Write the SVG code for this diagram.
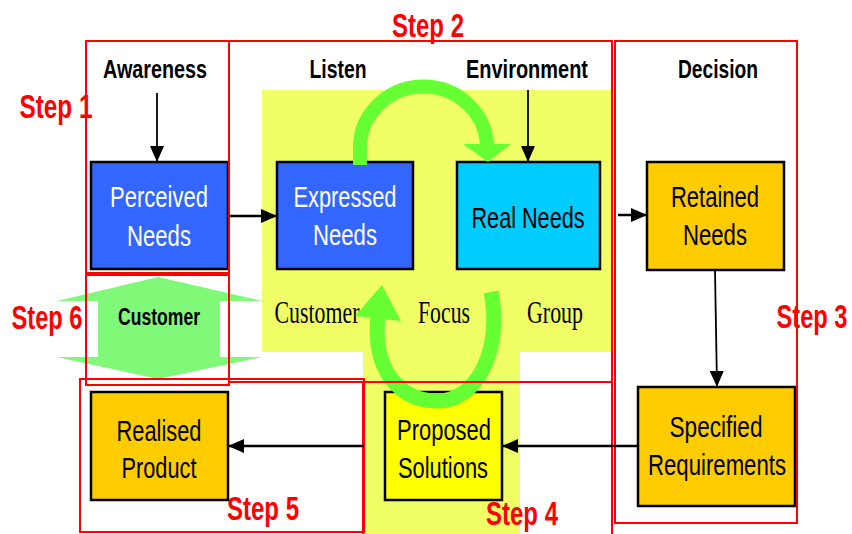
<svg xmlns="http://www.w3.org/2000/svg" width="852" height="534" viewBox="0 0 852 534">
<defs>
<style>
.node{stroke:#000;stroke-width:2.5}
.nt{font-family:"Liberation Sans",Arial,sans-serif;font-size:29px;text-anchor:middle}
.lb{font-family:"Liberation Sans",Arial,sans-serif;font-size:26px;font-weight:bold;text-anchor:middle;fill:#000}
.st{font-family:"Liberation Sans",Arial,sans-serif;font-size:33px;font-weight:bold;text-anchor:middle;fill:#FF0000}
.tm{font-family:"Liberation Serif","Times New Roman",serif;font-size:32px;text-anchor:middle;fill:#000}
.red{fill:none;stroke:#FF0000;stroke-width:2}
.arc{fill:none;stroke:#66FF33;stroke-linecap:butt}
.con{fill:none;stroke:#000}
</style>
<marker id="ah" markerUnits="userSpaceOnUse" markerWidth="17" markerHeight="14" refX="16" refY="7" orient="auto">
<path d="M0,0 L16,7 L0,14 z" fill="#000"/>
</marker>
</defs>
<rect width="852" height="534" fill="#fff"/>
<g id="background">
<path d="M262,90 H613 V352 H520 V534 H363 V352 H262 Z" fill="#F0FF66"/>
<path d="M158,277 L262,301 H220 V357 H262 L158,379 L57,357 H98 V301 H57 Z" fill="#80F878"/>
</g>
<g id="perceived">
<rect class="node" x="91" y="162" width="137" height="107" fill="#3366FF"/>
<text class="nt" x="159" y="207" fill="#fff" textLength="98" lengthAdjust="spacingAndGlyphs">Perceived</text>
<text class="nt" x="159" y="246" fill="#fff" textLength="64" lengthAdjust="spacingAndGlyphs">Needs</text>
</g>
<g id="expressed">
<rect class="node" x="277" y="162" width="136" height="107" fill="#3366FF"/>
<text class="nt" x="345" y="207" fill="#fff" textLength="103" lengthAdjust="spacingAndGlyphs">Expressed</text>
<text class="nt" x="345" y="245" fill="#fff" textLength="64" lengthAdjust="spacingAndGlyphs">Needs</text>
</g>
<g id="real">
<rect class="node" x="457" y="162" width="143" height="107" fill="#00CCFF"/>
<text class="nt" x="528" y="228" fill="#000" textLength="113" lengthAdjust="spacingAndGlyphs">Real Needs</text>
</g>
<g id="retained">
<rect class="node" x="647" y="162" width="137" height="108" fill="#FFCC00"/>
<text class="nt" x="715" y="207" fill="#000" textLength="88" lengthAdjust="spacingAndGlyphs">Retained</text>
<text class="nt" x="715" y="245" fill="#000" textLength="64" lengthAdjust="spacingAndGlyphs">Needs</text>
</g>
<g id="specified">
<rect class="node" x="638" y="387" width="157" height="119" fill="#FFCC00"/>
<text class="nt" x="716" y="437" fill="#000" textLength="93" lengthAdjust="spacingAndGlyphs">Specified</text>
<text class="nt" x="717" y="475" fill="#000" textLength="138" lengthAdjust="spacingAndGlyphs">Requirements</text>
</g>
<g id="proposed">
<rect class="node" x="385" y="392" width="117" height="108" fill="#FFFF00"/>
<text class="nt" x="444" y="440" fill="#000" textLength="94" lengthAdjust="spacingAndGlyphs">Proposed</text>
<text class="nt" x="443" y="478" fill="#000" textLength="90" lengthAdjust="spacingAndGlyphs">Solutions</text>
</g>
<g id="realised">
<rect class="node" x="91" y="392" width="137" height="108" fill="#FFCC00"/>
<text class="nt" x="159" y="441" fill="#000" textLength="85" lengthAdjust="spacingAndGlyphs">Realised</text>
<text class="nt" x="159" y="478" fill="#000" textLength="75" lengthAdjust="spacingAndGlyphs">Product</text>
</g>
<g id="focus-group-labels">
<text class="tm" x="317" y="323" textLength="85" lengthAdjust="spacingAndGlyphs">Customer</text>
<text class="tm" x="444" y="323" textLength="52" lengthAdjust="spacingAndGlyphs">Focus</text>
<text class="tm" x="555" y="323" textLength="56" lengthAdjust="spacingAndGlyphs">Group</text>
</g>
<g id="cycle-arrows">
<path class="arc" stroke-width="14" d="M360,165 L360,150 A63,61 0 0 1 487,146"/>
<path d="M463,144 L511,144 L488,162 Z" fill="#66FF33"/>
<path class="arc" stroke-width="15" d="M378,316 C372,370 400,401 437,401 C480,401 502,345 491,292"/>
<path d="M382,285 L401,321 L355,316 Z" fill="#66FF33"/>
</g>
<g id="steps">
<rect class="red" x="86" y="41" width="143" height="232"/>
<rect class="red" x="229" y="41" width="383" height="341"/>
<rect class="red" x="615" y="41" width="182" height="482"/>
<rect class="red" x="86" y="275" width="143" height="110"/>
<rect class="red" x="80" y="379" width="284" height="153"/>
<rect class="red" x="363" y="382" width="249" height="160"/>
</g>
<g id="labels">
<text class="lb" x="155" y="78" textLength="104" lengthAdjust="spacingAndGlyphs">Awareness</text>
<text class="lb" x="338" y="78" textLength="57" lengthAdjust="spacingAndGlyphs">Listen</text>
<text class="lb" x="527" y="78" textLength="122" lengthAdjust="spacingAndGlyphs">Environment</text>
<text class="lb" x="718" y="78" textLength="80" lengthAdjust="spacingAndGlyphs">Decision</text>
<text class="lb" x="159" y="325" style="font-size:23px" textLength="82" lengthAdjust="spacingAndGlyphs">Customer</text>
<text class="st" x="56" y="118" textLength="73" lengthAdjust="spacingAndGlyphs">Step 1</text>
<text class="st" x="428" y="37" textLength="72" lengthAdjust="spacingAndGlyphs">Step 2</text>
<text class="st" x="812" y="328" textLength="71" lengthAdjust="spacingAndGlyphs">Step 3</text>
<text class="st" x="522" y="525" textLength="72" lengthAdjust="spacingAndGlyphs">Step 4</text>
<text class="st" x="263" y="520" textLength="72" lengthAdjust="spacingAndGlyphs">Step 5</text>
<text class="st" x="47" y="329" textLength="71" lengthAdjust="spacingAndGlyphs">Step 6</text>
</g>
<g id="connectors">
<line class="con" stroke-width="1.8" x1="157" y1="93" x2="157" y2="162" marker-end="url(#ah)"/>
<line class="con" stroke-width="1.8" x1="528" y1="90" x2="528" y2="162" marker-end="url(#ah)"/>
<line class="con" stroke-width="2.5" x1="229" y1="216" x2="277" y2="216" marker-end="url(#ah)"/>
<line class="con" stroke-width="2.5" x1="618" y1="215" x2="647" y2="215" marker-end="url(#ah)"/>
<line class="con" stroke-width="1.8" x1="715" y1="270" x2="717" y2="387" marker-end="url(#ah)"/>
<line class="con" stroke-width="2.5" x1="638" y1="446" x2="502" y2="446" marker-end="url(#ah)"/>
<line class="con" stroke-width="2.5" x1="364" y1="446" x2="228" y2="446" marker-end="url(#ah)"/>
</g>
</svg>
